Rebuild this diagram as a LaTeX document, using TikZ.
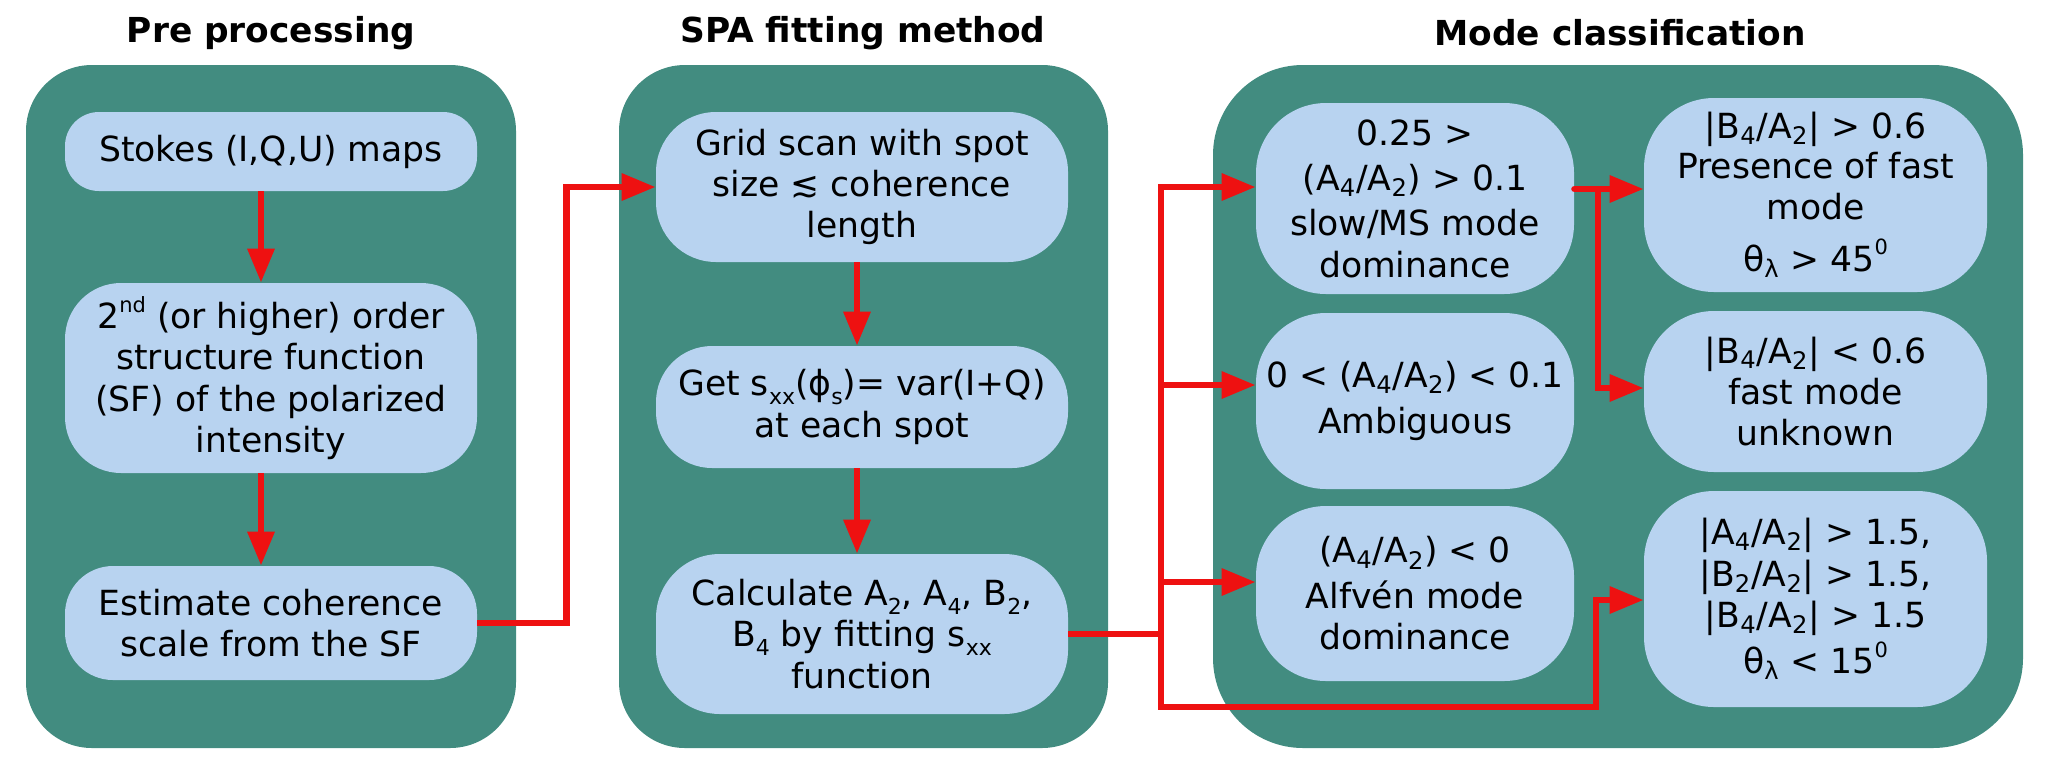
\documentclass[tikz,border=0pt]{standalone}
\usepackage{fontspec}
\setmainfont{DejaVu Sans}
\usetikzlibrary{arrows.meta}
\definecolor{panelteal}{RGB}{66,140,128}
\definecolor{boxblue}{RGB}{184,211,240}
\definecolor{linered}{RGB}{238,17,17}
\newcommand{\bodyfont}{\fontsize{17.3}{20.7}\selectfont}
\newcommand{\headfont}{\fontsize{17.2}{20.6}\selectfont\bfseries}
\newcommand{\sbs}[1]{\raisebox{-0.45ex}{\fontsize{11}{11}\selectfont #1}}
\newcommand{\sbt}[1]{\textsubscript{#1}}
\newcommand{\sps}[1]{\raisebox{0.85ex}{\fontsize{10.5}{10.5}\selectfont #1}}
\begin{document}
\begin{tikzpicture}[x=0.5pt,y=-0.5pt,
  panel/.style={fill=panelteal, inner sep=0pt, rounded corners=#1},
  box/.style={fill=boxblue, inner sep=0pt, align=center, font=\bodyfont, rounded corners=#1},
  headtitle/.style={font=\headfont, inner sep=0pt},
  wire/.style={draw=linered, line width=3.2pt},
  arr/.style={draw=linered, line width=3.2pt, -{Triangle[length=17pt,width=13pt]}}]
\useasboundingbox (0,0) rectangle (2048,772);
% panels
\node[panel=33pt, minimum width=245pt, minimum height=341.5pt] (P1) at (271,406.5) {};
\node[panel=33pt, minimum width=244.5pt, minimum height=341.5pt] (P2) at (863.5,406.5) {};
\node[panel=45pt, minimum width=405pt, minimum height=341.5pt] (P3) at (1618,406.5) {};
% titles
\node[headtitle] (T1) at (271,33) {Pre processing};
\node[headtitle] (T2) at (863,33) {SPA fitting method};
\node[headtitle] (T3) at (1620,33) {Mode classification};
% pre processing
\node[box=17pt, minimum width=206pt, minimum height=39.5pt] (s1) at (271,151.5) {Stokes (I,Q,U) maps};
\node[box=28pt, minimum width=206pt, minimum height=95pt] (s2) at (271,378) {2\sps{nd} (or higher) order\\structure function\\(SF) of the polarized\\intensity};
\node[box=24pt, minimum width=206pt, minimum height=57pt] (s3) at (271,623) {Estimate coherence\\scale from the SF};
% SPA
\node[box=30pt, minimum width=206pt, minimum height=75pt] (g1) at (862,187) {Grid scan with spot\\size ≲ coherence\\length};
\node[box=28pt, minimum width=206pt, minimum height=61pt] (g2) at (862,407) {Get s\sbs{xx}(ϕ\sbs{s})= var(I+Q)\\at each spot};
\node[box=32pt, minimum width=206pt, minimum height=80pt] (g3) at (862,634) {Calculate A\sbs{2}, A\sbs{4}, B\sbs{2},\\B\sbs{4} by fitting s\sbs{xx}\\function};
% mode classification
\node[box=35pt, minimum width=159pt, minimum height=95.5pt] (mA) at (1415,198.5) {0.25 >\\[2pt](A\sbt{4}/A\sbt{2}) > 0.1\\[2pt]slow/MS mode\\dominance};
\node[box=35pt, minimum width=159pt, minimum height=88pt] (mB) at (1415,401) {0 < (A\sbt{4}/A\sbt{2}) < 0.1\\[2pt]Ambiguous};
\node[box=35pt, minimum width=159pt, minimum height=87.5pt] (mC) at (1415,593.5) {(A\sbt{4}/A\sbt{2}) < 0\\[2pt]Alfvén mode\\dominance};
\node[box=35pt, minimum width=171.5pt, minimum height=97pt] (mD) at (1815.5,195) {|B\sbt{4}/A\sbt{2}| > 0.6\\[-1pt]Presence of fast\\mode\\[5pt]θ\sbt{λ} > 45\sps{0}};
\node[box=35pt, minimum width=171.5pt, minimum height=80.5pt] (mE) at (1815.5,391.5) {|B\sbt{4}/A\sbt{2}| < 0.6\\fast mode\\unknown};
\node[box=35pt, minimum width=171.5pt, minimum height=108pt] (mF) at (1815.5,599) {|A\sbt{4}/A\sbt{2}| > 1.5,\\|B\sbt{2}/A\sbt{2}| > 1.5,\\|B\sbt{4}/A\sbt{2}| > 1.5\\[2pt]θ\sbt{λ} < 15\sps{0}};
% connectors
\draw[arr] ([xshift=-5pt]s1.south) -- ([xshift=-5pt]s2.north);
\draw[arr] ([xshift=-5pt]s2.south) -- ([xshift=-5pt]s3.north);
\draw[arr] ([xshift=-2.5pt]g1.south) -- ([xshift=-2.5pt]g2.north);
\draw[arr] ([xshift=-2.5pt]g2.south) -- ([xshift=-2.5pt]g3.north);
\draw[arr] (s3.east) -- ++(44.5pt,0) |- (g1.west);
\coordinate (sT) at (1161,187);
\coordinate (sB) at (1161,707);
\coordinate (jB) at (1161,385);
\coordinate (jC) at (1161,582);
\coordinate (kF) at (1596,600);
\coordinate (kD) at (1598,189);
\coordinate (kE) at (1598,388);
\draw[arr] (g3.east) -- (g3.east -| sT) -- (sT) -- (sT -| mA.west);
\draw[arr] (g3.east -| sT) -- (sB) -| (kF) -- (kF -| mF.west);
\draw[arr] (jB) -- (jB -| mB.west);
\draw[arr] (jC) -- (jC -| mC.west);
\draw[arr, line cap=round] (kD -| mA.east) -- (kD) -- (kD -| mD.west);
\draw[arr] (kD) -- (kE) -- (kE -| mE.west);
\end{tikzpicture}
\end{document}
